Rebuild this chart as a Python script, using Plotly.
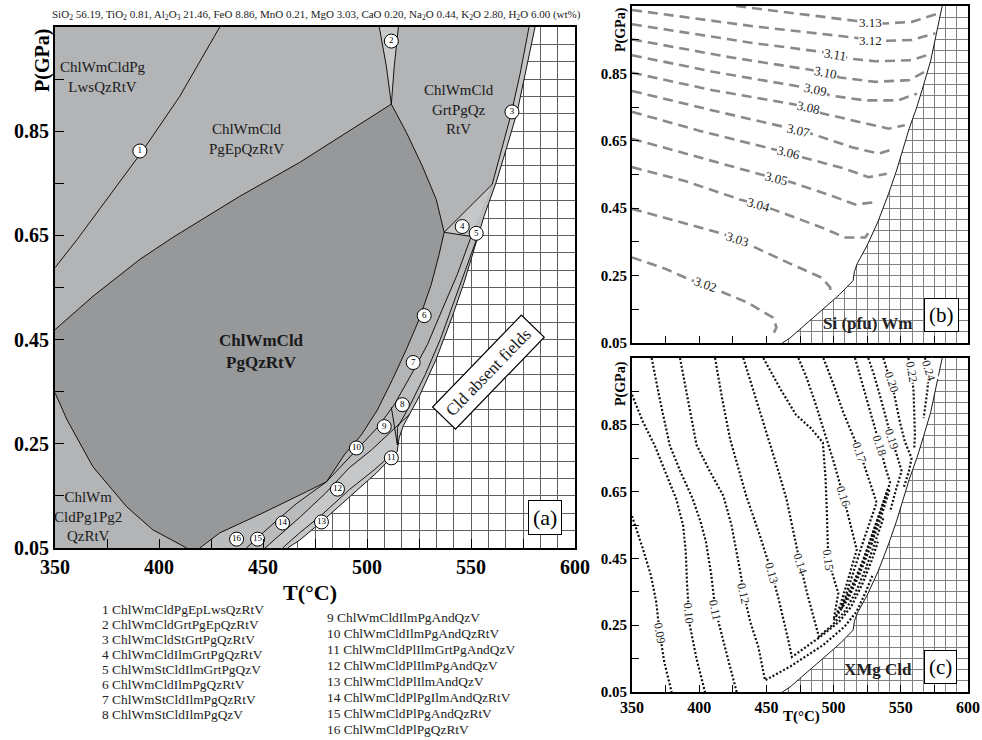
import plotly.graph_objects as go

FONT = "Liberation Serif"

# ---------------- data ----------------
OXIDES = ["SiO<sub>2</sub>", "TiO<sub>2</sub>", "Al<sub>2</sub>O<sub>3</sub>", "FeO", "MnO",
          "MgO", "CaO", "Na<sub>2</sub>O", "K<sub>2</sub>O", "H<sub>2</sub>O"]
WT_PCT = ["56.19", "0.81", "21.46", "8.86", "0.21", "3.03", "0.20", "0.44", "2.80", "6.00"]

T_TICKS = [350, 375, 400, 425, 450, 475, 500, 525, 550, 575, 600]
T_LABELS = ["350", "", "400", "", "450", "", "500", "", "550", "", "600"]
P_TICKS = [0.05, 0.15, 0.25, 0.35, 0.45, 0.55, 0.65, 0.75, 0.85, 0.95]
P_LABELS = ["0.05", "", "0.25", "", "0.45", "", "0.65", "", "0.85", ""]

# Cld-out boundary (Cld absent fields to the right)
BND_T = [580.8, 576.5, 572.2, 566.9, 562.1, 556.3, 552.5, 546.7, 541.0, 533.0, 525.0, 520.3,
         517.5, 515.5, 514.5, 504.5, 491.5, 478.1, 467.6, 461.8]
BND_P = [1.05, 0.969, 0.887, 0.815, 0.752, 0.687, 0.637, 0.560, 0.494, 0.410, 0.340, 0.306,
         0.285, 0.262, 0.235, 0.194, 0.148, 0.100, 0.065, 0.05]

# reaction lines of panel (a)
LINE1_T = [429.2, 410.0, 391.7, 375.0, 360.6, 350.0]
LINE1_P = [1.05, 0.917, 0.810, 0.719, 0.642, 0.588]
EP_T = [350.0, 368.2, 390.8, 406.6, 438.8, 467.6, 511.7]
EP_P = [0.469, 0.533, 0.604, 0.646, 0.725, 0.790, 0.902]
S2L_T = [505.9, 509.3, 511.7]
S2L_P = [1.05, 0.975, 0.902]
S2R_T = [515.1, 513.1, 511.7]
S2R_P = [1.05, 0.975, 0.902]
DRB_T = [511.7, 518.9, 526.6, 533.3, 537.1]
DRB_P = [0.902, 0.848, 0.783, 0.719, 0.656]
DLE_T = [537.1, 534.7, 530.9, 525.1, 518.9, 512.2, 505.0, 497.3, 489.1, 480.5, 470.9, 449.8, 429.2, 419.6]
DLE_P = [0.656, 0.614, 0.556, 0.489, 0.431, 0.373, 0.315, 0.267, 0.229, 0.177, 0.158, 0.117, 0.079, 0.05]
DLB_T = [413.3, 397.0, 384.5, 368.2, 355.8, 350.0]
DLB_P = [0.05, 0.085, 0.129, 0.206, 0.296, 0.348]
F4_T = [537.1, 560.2, 550.1]
F4_P = [0.656, 0.748, 0.648]
IN3_T = [577.9, 573.6, 569.3, 564.5, 560.2]
IN3_P = [1.05, 0.960, 0.883, 0.812, 0.748]
LA_T = [550.1, 543.4, 536.2, 529.0, 521.3, 513.1, 505.0, 494.9, 486.7, 480.5]
LA_P = [0.648, 0.575, 0.508, 0.440, 0.383, 0.325, 0.281, 0.238, 0.204, 0.177]
LB_T = [553.9, 548.2, 541.9, 535.2, 528.0, 520.8, 514.6, 514.6]
LB_P = [0.656, 0.594, 0.523, 0.450, 0.383, 0.325, 0.281, 0.248]
LC_T = [451.0, 458.0, 468.0, 480.0, 491.5, 502.1, 511.7, 520.3]
LC_P = [0.05, 0.075, 0.11, 0.155, 0.204, 0.238, 0.273, 0.306]
F1_T = [480.5, 466.0, 453.0, 442.0]
F1_P = [0.177, 0.135, 0.09, 0.05]
LD_T = [511.7, 503.5, 491.5, 478.1, 467.6, 459.4]
LD_P = [0.229, 0.200, 0.162, 0.113, 0.079, 0.05]
K89_T = [511.7, 514.6]
K89_P = [0.320, 0.248]

CIRC_N = [str(i) for i in range(1, 17)]
CIRC_T = [390.8, 511.7, 569.7, 545.8, 552.5, 527.5, 522.2, 517.0, 508.3, 494.9, 511.7, 485.8, 478.1, 459.4, 447.4, 437.3]
CIRC_P = [0.812, 1.023, 0.887, 0.667, 0.654, 0.496, 0.406, 0.325, 0.283, 0.242, 0.223, 0.163, 0.100, 0.098, 0.067, 0.067]

LEG_NAMES = ["ChlWmCldPgEpLwsQzRtV", "ChlWmCldGrtPgEpQzRtV", "ChlWmCldStGrtPgQzRtV",
             "ChlWmCldIlmGrtPgQzRtV", "ChlWmStCldIlmGrtPgQzV", "ChlWmCldIlmPgQzRtV",
             "ChlWmStCldIlmPgQzRtV", "ChlWmStCldIlmPgQzV", "ChlWmCldIlmPgAndQzV",
             "ChlWmCldIlmPgAndQzRtV", "ChlWmCldPlIlmGrtPgAndQzV", "ChlWmCldPlIlmPgAndQzV",
             "ChlWmCldPlIlmAndQzV", "ChlWmCldPlPgIlmAndQzRtV", "ChlWmCldPlPgAndQzRtV",
             "ChlWmCldPlPgQzRtV"]

# panel (b): Si (pfu) in white mica, isopleths
SI_LEVELS = ["3.02", "3.03", "3.04", "3.05", "3.06", "3.07", "3.08", "3.09", "3.10", "3.11", "3.12", "3.13"]
SI_T = [
    [350, 375, 393.5, 405, 416, 436, 455, 457.5, 455],
    [350, 385, 418.5, 428.8, 438.5, 468.5, 491, 497.5, 497.5],
    [350, 390, 431, 443.8, 456, 491, 508.5, 523.5, 527],
    [350, 400, 446, 457.5, 468.5, 498.5, 516, 531],
    [350, 400, 456, 466.3, 476, 508.5, 526, 539.6],
    [350, 410, 463.5, 473.8, 483.5, 513.5, 533.5, 545],
    [350, 410, 471, 481.3, 491, 518, 541, 553],
    [350, 410, 476, 486.3, 497, 523, 548, 562],
    [350, 420, 483.5, 493.8, 504.7, 531, 556, 568],
    [350, 440, 491, 501.3, 512, 531, 558, 573],
    [350, 440, 516, 527.5, 539.6, 558.3, 575.8],
    [427.5, 480, 516, 527.5, 538.7, 558.3, 578.3],
]
SI_P = [
    [0.304, 0.27, 0.237, 0.223, 0.203, 0.17, 0.125, 0.096, 0.076],
    [0.448, 0.41, 0.373, 0.357, 0.339, 0.284, 0.244, 0.215, 0.19],
    [0.572, 0.53, 0.475, 0.461, 0.445, 0.393, 0.363, 0.363, 0.383],
    [0.656, 0.60, 0.55, 0.539, 0.527, 0.487, 0.461, 0.468],
    [0.736, 0.68, 0.624, 0.614, 0.602, 0.567, 0.542, 0.552],
    [0.798, 0.74, 0.691, 0.681, 0.671, 0.631, 0.612, 0.626],
    [0.852, 0.80, 0.758, 0.748, 0.732, 0.706, 0.686, 0.696],
    [0.904, 0.855, 0.81, 0.802, 0.785, 0.77, 0.77, 0.79],
    [0.951, 0.90, 0.86, 0.852, 0.838, 0.825, 0.83, 0.855],
    [0.996, 0.94, 0.914, 0.907, 0.894, 0.886, 0.889, 0.909],
    [1.038, 0.99, 0.956, 0.949, 0.947, 0.949, 0.969],
    [1.05, 1.025, 1.006, 1.0, 0.998, 1.003, 1.028],
]
SI_LAB_T = [405, 428.8, 443.8, 457.5, 466.3, 473.8, 481.3, 486.3, 493.8, 501.3, 527.5, 527.5]
SI_LAB_P = [0.223, 0.357, 0.461, 0.539, 0.614, 0.681, 0.748, 0.802, 0.852, 0.907, 0.949, 1.0]
SI_LAB_ANG = [20, 18, 16, 14, 14, 13, 12, 12, 11, 9, 0, 0]

# panel (c): XMg of chloritoid, isopleths
XMG_LEVELS = ["0.09", "0.10", "0.11", "0.12", "0.13", "0.14", "0.15", "0.16", "0.17", "0.18", "0.19", "0.20", "0.22", "0.24"]
XMG_T = [
    [350, 358, 364, 368, 370.5, 374, 379.5],
    [350, 358, 367, 376, 383, 388, 390, 391, 393, 398, 404.3],
    [364.6, 371, 378, 386, 395, 401, 405, 409, 412, 416, 422, 427.9],
    [385.7, 392, 398, 408, 418, 424, 428, 431, 433, 438, 444, 449, 468, 492, 508, 517, 524, 529],
    [411.8, 417, 423, 429, 435, 445, 454, 459, 463, 466, 469, 490, 504, 513, 521, 528, 533],
    [432.8, 443, 452.7, 459, 465, 470, 475, 480, 485, 489, 499, 508, 516, 524, 531, 537],
    [447.7, 460, 472, 483, 492, 494, 495, 496, 503.5, 500, 506, 513, 521, 528, 535, 540],
    [473.8, 480, 486, 492.4, 500, 507.2, 512, 517.2, 511, 505, 502, 507, 514, 522, 529, 536, 541],
    [492.4, 500, 507.2, 513, 519.6, 526, 532, 522, 513, 506, 511, 519, 527, 535, 542],
    [515.9, 521, 525, 530, 534.5, 538, 542, 536, 531, 528],
    [525.8, 530, 535, 539, 543.2, 547, 550.6, 546, 542],
    [537, 540, 543.2, 546, 549.4, 553, 558, 556, 552],
    [555.6, 557, 558, 559.5, 560, 560.5, 560],
    [568, 569.5, 570.5, 570, 568.5, 567],
]
XMG_P = [
    [0.577, 0.48, 0.40, 0.32, 0.23, 0.14, 0.05],
    [0.94, 0.86, 0.787, 0.70, 0.627, 0.55, 0.47, 0.37, 0.25, 0.15, 0.05],
    [1.05, 0.92, 0.79, 0.71, 0.63, 0.56, 0.50, 0.40, 0.296, 0.23, 0.14, 0.05],
    [1.05, 0.92, 0.79, 0.71, 0.637, 0.55, 0.466, 0.40, 0.346, 0.26, 0.185, 0.085, 0.127, 0.19, 0.245, 0.29, 0.35, 0.40],
    [1.05, 0.93, 0.807, 0.72, 0.637, 0.52, 0.406, 0.33, 0.265, 0.21, 0.155, 0.215, 0.26, 0.305, 0.37, 0.44, 0.50],
    [1.05, 0.92, 0.797, 0.71, 0.627, 0.53, 0.436, 0.35, 0.28, 0.216, 0.25, 0.29, 0.345, 0.42, 0.50, 0.57],
    [1.05, 0.96, 0.88, 0.84, 0.797, 0.69, 0.587, 0.446, 0.346, 0.265, 0.30, 0.355, 0.43, 0.51, 0.59, 0.65],
    [1.05, 0.99, 0.92, 0.837, 0.74, 0.637, 0.56, 0.476, 0.39, 0.31, 0.28, 0.315, 0.37, 0.445, 0.525, 0.605, 0.665],
    [1.05, 0.97, 0.887, 0.83, 0.767, 0.69, 0.617, 0.50, 0.39, 0.30, 0.33, 0.40, 0.48, 0.57, 0.66],
    [1.05, 0.98, 0.92, 0.85, 0.787, 0.73, 0.677, 0.60, 0.54, 0.49],
    [1.05, 1.0, 0.93, 0.87, 0.807, 0.76, 0.712, 0.65, 0.59],
    [1.05, 1.01, 0.978, 0.92, 0.857, 0.80, 0.75, 0.71, 0.66],
    [1.05, 1.03, 1.008, 0.95, 0.89, 0.82, 0.78],
    [1.05, 1.03, 1.013, 0.96, 0.91, 0.87],
]
XMG_LAB_T = [370.5, 392, 411.8, 432.8, 453.9, 475, 496.1, 507.2, 519.6, 534.5, 543.2, 543.2, 558.1, 570.5]
XMG_LAB_P = [0.226, 0.286, 0.296, 0.346, 0.406, 0.436, 0.446, 0.637, 0.767, 0.787, 0.807, 0.978, 1.008, 1.013]
XMG_LAB_ANG = [80, 85, 78, 78, 75, 72, 82, 72, 72, 72, 72, 72, 80, 72]

# ---------------- styling ----------------
LIGHT = "#b3b4b6"
DARK = "#97989a"
MID = "#babbbd"
BAND = "#bdbec0"
PALE = "#c6c7c9"
SLIVER = "#c9cacc"
GRID_A = "#5e5e5e"
GRID_BC = "#808080"

traces = []


def poly(xs, ys, color, xa, ya):
    traces.append(go.Scatter(x=xs, y=ys, fill="toself", fillcolor=color, mode="lines",
                             line=dict(width=0, color=color), xaxis=xa, yaxis=ya,
                             hoverinfo="skip", showlegend=False))


def line(xs, ys, xa, ya, color="black", width=0.9, dash="solid"):
    traces.append(go.Scatter(x=xs, y=ys, mode="lines", line=dict(color=color, width=width, dash=dash),
                             xaxis=xa, yaxis=ya, hoverinfo="skip", showlegend=False))


# ---- panel (a) fields ----
poly([350, 350] + BND_T, [0.05, 1.05] + BND_P, LIGHT, "x", "y")
poly(EP_T + DRB_T[1:] + DLE_T[1:] + DLB_T, EP_P + DRB_P[1:] + DLE_P[1:] + DLB_P, DARK, "x", "y")
poly(S2L_T + S2R_T[::-1], S2L_P + S2R_P[::-1], SLIVER, "x", "y")
poly(IN3_T + BND_T[:5][::-1], IN3_P + BND_P[:5][::-1], PALE, "x", "y")
poly(F4_T, F4_P, PALE, "x", "y")
ic = DLE_T.index(480.5)
bi_lo = BND_T.index(520.3)
bi_hi = BND_T.index(562.1)
la_k = LA_T.index(513.1)
poly([560.2] + LA_T[:la_k + 1] + BND_T[bi_hi:bi_lo + 1][::-1],
     [0.748] + LA_P[:la_k + 1] + BND_P[bi_hi:bi_lo + 1][::-1], BAND, "x", "y")
poly(DLE_T[ic:] + LC_T + LA_T[la_k:], DLE_P[ic:] + LC_P + LA_P[la_k:], MID, "x", "y")
poly(LC_T + BND_T[bi_lo + 1:], LC_P + BND_P[bi_lo + 1:], PALE, "x", "y")

for xs, ys in [(LINE1_T, LINE1_P), (EP_T, EP_P), (S2L_T, S2L_P), (S2R_T, S2R_P), (DRB_T, DRB_P),
               (DLE_T, DLE_P), (DLB_T, DLB_P), (F4_T[:2], F4_P[:2]), ([F4_T[0], F4_T[2]], [F4_P[0], F4_P[2]]),
               (IN3_T, IN3_P), (LA_T, LA_P), (LB_T, LB_P), (LC_T, LC_P), (F1_T, F1_P), (LD_T, LD_P),
               (K89_T, K89_P), (BND_T, BND_P)]:
    line(xs, ys, "x", "y")

traces.append(go.Scatter(x=CIRC_T, y=CIRC_P, mode="markers+text", text=CIRC_N,
                         textposition="middle center",
                         textfont=dict(family=FONT, size=9, color="black"),
                         marker=dict(size=14, color="white", line=dict(color="black", width=1)),
                         xaxis="x", yaxis="y", hoverinfo="skip", showlegend=False))

# ---- panel (b) ----
poly([350, 350] + BND_T, [0.05, 1.05] + BND_P, "white", "x2", "y2")
for xs, ys in zip(SI_T, SI_P):
    line(xs, ys, "x2", "y2", color="#8a8a8a", width=2.6, dash="10px,6px")
line(BND_T, BND_P, "x2", "y2")

# ---- panel (c) ----
poly([350, 350] + BND_T, [0.05, 1.05] + BND_P, "white", "x3", "y3")
for xs, ys in zip(XMG_T, XMG_P):
    line(xs, ys, "x3", "y3", color="#111111", width=2.2, dash="2px,2px")
line(BND_T, BND_P, "x3", "y3")

fig = go.Figure(traces)


def xax(domain, anchor, labels, fs, tl, grid):
    return dict(domain=domain, anchor=anchor, range=[350, 600], tickmode="array", tickvals=T_TICKS,
                ticktext=T_LABELS if labels else [""] * len(T_TICKS), ticks="inside", ticklen=tl,
                tickwidth=1.3, tickcolor="black", showline=True, linewidth=2, linecolor="black",
                mirror=True, showgrid=True, gridcolor=grid, gridwidth=1, zeroline=False,
                automargin=False,
                minor=dict(tickmode="linear", tick0=350, dtick=25 / 3, showgrid=True,
                           gridcolor=grid, gridwidth=1, ticks=""),
                tickfont=dict(family=FONT, size=fs, color="black", weight="bold"), fixedrange=True)


def yax(domain, anchor, fs, tl, grid):
    return dict(domain=domain, anchor=anchor, range=[0.05, 1.05], tickmode="array", tickvals=P_TICKS,
                ticktext=P_LABELS, ticks="inside", ticklen=tl, tickwidth=1.3, tickcolor="black",
                showline=True, linewidth=2, linecolor="black", mirror=True, showgrid=True,
                gridcolor=grid, gridwidth=1, zeroline=False, automargin=False,
                minor=dict(tickmode="linear", tick0=0.05, dtick=0.1 / 3, showgrid=True,
                           gridcolor=grid, gridwidth=1, ticks=""),
                tickfont=dict(family=FONT, size=fs, color="black", weight="bold"), fixedrange=True)


W, H = 982, 740
dom_ax = [55 / W, 575 / W]
dom_bx = [632 / W, 968 / W]

annotations = []


def ann(text, x, y, xref, yref, size, color="#1a1a1a", angle=0, bold=False, **kw):
    d = dict(text=text, x=x, y=y, xref=xref, yref=yref, showarrow=False, textangle=angle,
             xanchor="center", yanchor="middle",
             font=dict(family=FONT, size=size, color=color, weight="bold" if bold else "normal"))
    d.update(kw)
    annotations.append(d)


# title
title = ", ".join(f"{o} {v}" for o, v in zip(OXIDES, WT_PCT)) + " (wt%)"
ann(title, 316 / W, 1 - 15 / H, "paper", "paper", 11, color="#222")

# axis titles
ann("P(GPa)", 42 / W, 1 - 61 / H, "paper", "paper", 20, color="black", angle=-90, bold=True)
ann("T(°C)", 310 / W, 1 - 592 / H, "paper", "paper", 22, color="black", bold=True)
ann("P(GPa)", 621 / W, 1 - 30 / H, "paper", "paper", 14, color="black", angle=-90, bold=True)
ann("P(GPa)", 621 / W, 1 - 384 / H, "paper", "paper", 14, color="black", angle=-90, bold=True)
ann("T(°C)", 801 / W, 1 - 716 / H, "paper", "paper", 15, color="black", bold=True)

# field labels (a)
ann("ChlWmCldPg<br>LwsQzRtV", 373.0, 0.954, "x", "y", 15)
ann("ChlWmCld<br>PgEpQzRtV", 442.1, 0.835, "x", "y", 15)
ann("ChlWmCld<br>GrtPgQz<br>RtV", 544.3, 0.892, "x", "y", 15)
ann("ChlWmCld<br>PgQzRtV", 449.3, 0.427, "x", "y", 17, bold=True)
ann("ChlWm<br>CldPg1Pg2<br>QzRtV", 365.8, 0.110, "x", "y", 15)
ann("Cld absent fields", 558.2, 0.387, "x", "y", 17, angle=-46, bgcolor="white",
    bordercolor="black", borderwidth=1.2, borderpad=6)
ann("(a)", 585.6, 0.108, "x", "y", 22, color="black", bgcolor="white", bordercolor="black",
    borderwidth=1, borderpad=4)

# panel (b) labels
for lv, t, p, a in zip(SI_LEVELS, SI_LAB_T, SI_LAB_P, SI_LAB_ANG):
    ann(lv, t, p, "x2", "y2", 13, color="#222", angle=a, bgcolor="white", borderpad=0)
ann("Si (pfu) Wm", 525.1, 0.107, "x2", "y2", 17, color="#222", bold=True)
ann("(b)", 580.5, 0.133, "x2", "y2", 21, color="black", bgcolor="white", bordercolor="black",
    borderwidth=1, borderpad=4)

# panel (c) labels
for lv, t, p, a in zip(XMG_LEVELS, XMG_LAB_T, XMG_LAB_P, XMG_LAB_ANG):
    ann(lv, t, p, "x3", "y3", 12, color="#222", angle=a, bgcolor="white", borderpad=0)
ann("XMg Cld", 533.0, 0.116, "x3", "y3", 17, color="#222", bold=True)
ann("(c)", 579.9, 0.125, "x3", "y3", 21, color="black", bgcolor="white", bordercolor="black",
    borderwidth=1, borderpad=4)

# numbered legend
for i, name in enumerate(LEG_NAMES):
    if i < 8:
        xp, yp = 100, 609 + 15.1 * i
    else:
        xp, yp = 325, 617 + 16 * (i - 8)
    ann(f"{i + 1} {name}", xp / W, 1 - yp / H, "paper", "paper", 13.4, color="#222",
        xanchor="left", yanchor="middle")

fig.update_layout(
    width=W, height=H, autosize=False, margin=dict(l=0, r=0, t=0, b=0),
    paper_bgcolor="white", plot_bgcolor="white", showlegend=False,
    font=dict(family=FONT, color="black"),
    xaxis=xax(dom_ax, "y", True, 20, 9, GRID_A),
    yaxis=yax([1 - 548 / H, 1 - 27 / H], "x", 20, 9, GRID_A),
    xaxis2=xax(dom_bx, "y2", False, 15, 7, GRID_BC),
    yaxis2=yax([1 - 343 / H, 1 - 6 / H], "x2", 15, 7, GRID_BC),
    xaxis3=xax(dom_bx, "y3", True, 16, 7, GRID_BC),
    yaxis3=yax([1 - 692 / H, 1 - 358 / H], "x3", 15, 7, GRID_BC),
    annotations=annotations,
)

fig.write_html("out.html", config={"displayModeBar": False},
               post_script="document.body.style.margin='0px';")
